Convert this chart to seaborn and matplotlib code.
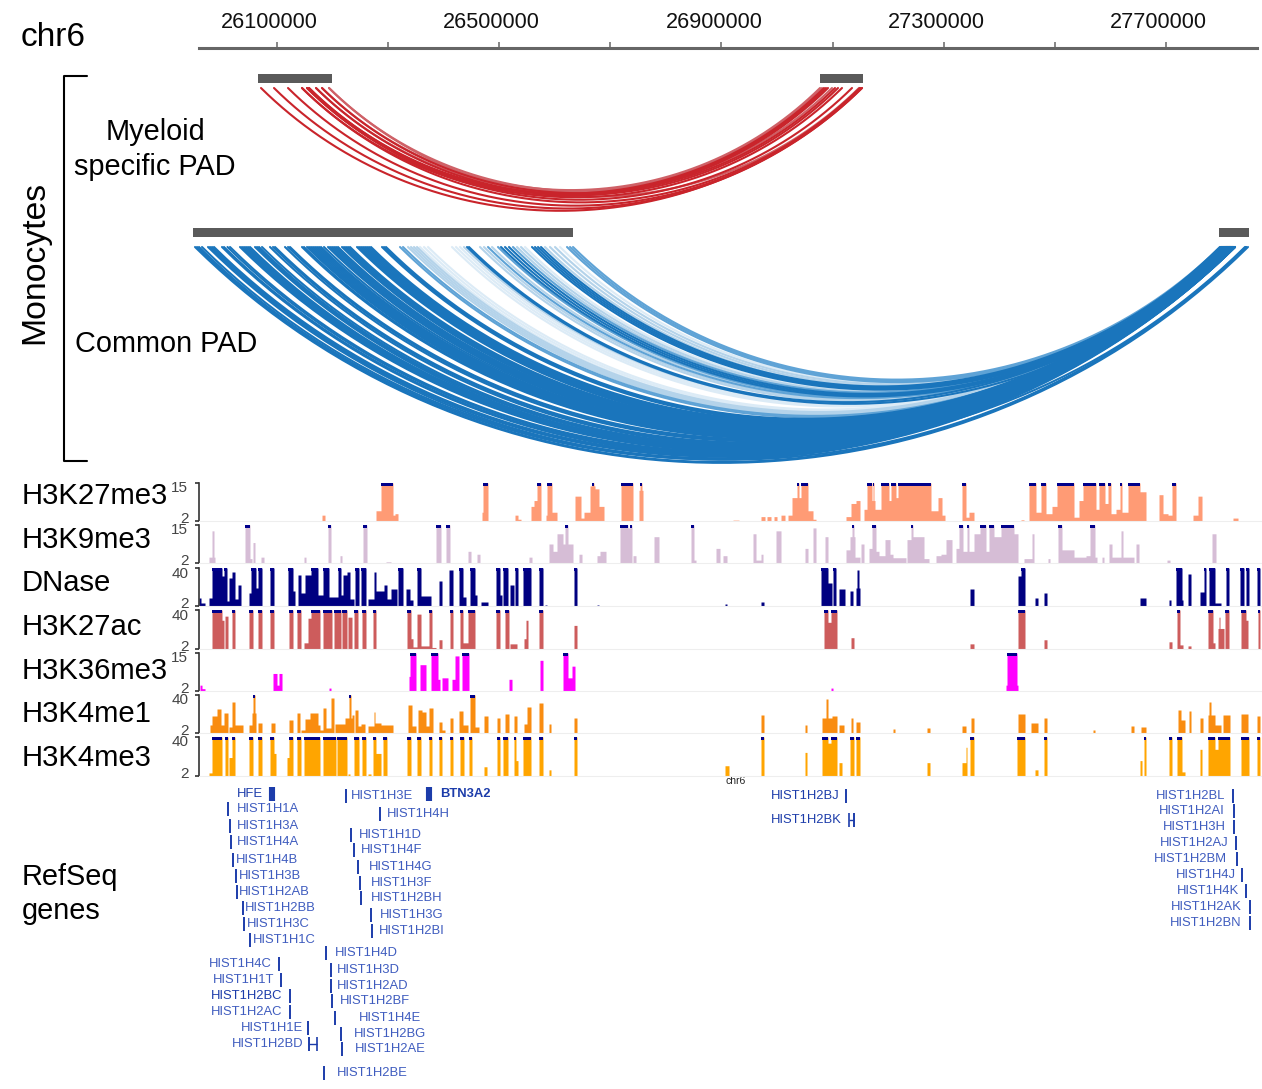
import numpy as np
import pandas as pd
import matplotlib
matplotlib.use("Agg")
import matplotlib.pyplot as plt
from matplotlib.transforms import ScaledTranslation
import seaborn as sns

# browser window index -> genome position
WIN_ZERO = 277
BP_START = 26100000
BP_PER_WIN = 1800

axis_ticks = [26100000 + 200000 * i for i in range(-0, 9)]
axis_labels = ["26100000", "", "26500000", "", "26900000", "", "27300000", "", "27700000"]

# PAD anchors and arcs, in browser windows
myeloid_bars = [(258, 332), (820, 863)]
common_bars = [(193, 573), (1219, 1249)]

myeloid_left = [261, 274, 288, 302, 307, 309, 316, 322, 329, 302, 307, 309, 316, 322, 329]
myeloid_right = [860, 862, 862, 860, 852, 842, 838, 835, 832, 828, 826, 824, 822, 820, 859]
myeloid_level = ["d", "d", "d", "d", "d", "d", "d", "d", "m", "d", "d", "d", "m", "m", "m"]

common_left = [195, 197, 199, 202, 208, 210, 212, 214, 222, 224, 227.5, 230,
               240, 242, 244, 246, 248, 250, 255, 257, 259, 262, 270, 273, 275,
               285, 288, 290, 302, 304, 307, 309, 311, 313, 315, 317, 319, 321, 324,
               328, 330, 332, 334, 336, 338, 342, 344, 346, 348, 350,
               357, 359, 361, 363, 365, 367, 369, 371, 382, 384, 386,
               400, 403, 408, 411, 414, 417, 420, 424, 428, 452, 456, 460, 464,
               467, 469, 480, 484, 488, 492, 498, 501, 505, 509, 513, 517, 521, 525,
               532, 535, 538, 541, 545, 550, 555, 560, 567, 570, 573]
common_right = [1248, 1246, 1235, 1232, 1246, 1233, 1230, 1228, 1235, 1232, 1230, 1228,
                1235, 1233, 1231, 1229, 1227, 1225, 1245, 1233, 1231, 1229, 1235, 1232, 1229,
                1233, 1230, 1227, 1235, 1231, 1233, 1230, 1228, 1226, 1224, 1232, 1229, 1226, 1223,
                1233, 1230, 1228, 1226, 1224, 1222, 1231, 1229, 1227, 1225, 1222,
                1234, 1232, 1230, 1228, 1226, 1224, 1222, 1220, 1232, 1228, 1224,
                1231, 1227, 1230, 1227, 1225, 1222, 1229, 1224, 1221, 1230, 1227, 1224, 1222,
                1232, 1226, 1231, 1228, 1225, 1222, 1233, 1230, 1228, 1226, 1223, 1230, 1226, 1222,
                1228, 1226, 1224, 1221, 1230, 1227, 1224, 1221, 1226, 1223, 1220]
common_level = ["d"] * 61 + ["m", "m", "p", "p", "p", "p", "v", "v", "v", "v", "v", "v", "p",
                             "d", "d", "p", "p", "m", "p", "m", "d", "d", "d", "m", "p", "p", "v",
                             "d", "d", "d", "d", "p", "p", "p", "v", "m", "m", "m"]

# tracks: (first window, last window, signal)
h3k27me3 = [(322, 325, 4), (376, 381, 5.5), (381, 393, 15), (393, 395, 4), (395, 398, 4.5), (482, 483, 5), (483, 488, 15),
            (515, 518, 4), (518, 521, 2.6), (531, 534, 7), (534, 537, 9), (537, 541, 15), (546, 547, 4), (547, 552, 15),
            (552, 557, 5), (575, 581, 10.5), (581, 584, 3), (584, 590, 5), (590, 595, 14), (592, 594, 15), (595, 599, 13),
            (599, 604, 7), (621, 633, 15), (639, 643, 12.5), (640, 642, 15), (733, 739, 2.3), (761, 765, 3.5), (767, 771, 3.5),
            (774, 777, 3.5), (781, 785, 4), (788, 792, 4), (792, 797, 10), (797, 799, 15), (799, 801, 10), (801, 808, 15),
            (808, 813, 5.5), (813, 816, 2.6), (846, 851, 3.5), (851, 856, 8), (856, 860, 9), (864, 867, 6), (867, 872, 15),
            (872, 875, 9), (873, 874, 15), (875, 881, 6), (881, 889, 15), (889, 891, 9), (891, 896, 15), (896, 898, 10),
            (898, 931, 15), (931, 938, 5.5), (938, 942, 10), (942, 945, 4), (962, 966, 15), (966, 969, 3.3), (969, 974, 5),
            (1021, 1024, 2.4), (1029, 1036, 15), (1036, 1041, 5), (1041, 1046, 15), (1046, 1052, 4.5), (1052, 1057, 7),
            (1057, 1074, 15), (1074, 1079, 3.3), (1079, 1083, 9), (1083, 1096, 15), (1096, 1099, 6), (1099, 1105, 15),
            (1105, 1108, 8), (1108, 1111, 15), (1111, 1116, 4.5), (1116, 1120, 6), (1120, 1122, 15), (1122, 1128, 5),
            (1128, 1140, 15), (1140, 1146, 12), (1159, 1163, 11), (1163, 1168, 4.5), (1168, 1172, 4), (1172, 1176, 15),
            (1193, 1198, 4), (1198, 1202, 10.5), (1233, 1238, 3)]
h3k9me3 = [(209, 212, 4), (212, 214, 13), (214, 215, 4), (245, 250, 15), (250, 252, 3.5), (253, 255, 9), (261, 264, 4),
           (304, 306, 4), (328, 331, 15), (340, 342, 4.5), (363, 367, 15), (386, 391, 2.4), (436, 441, 15), (446, 450, 15),
           (468, 471, 6), (477, 480, 5), (529, 532, 4), (549, 553, 8.5), (553, 557, 6), (557, 563, 12), (563, 565, 8.5),
           (565, 568, 15), (568, 573, 8.5), (579, 582, 5), (597, 600, 4.5), (600, 606, 6), (620, 628, 15), (628, 632, 14),
           (630, 632, 15), (633, 636, 4.5), (654, 659, 11), (691, 694, 15), (694, 696, 3), (716, 720, 7), (723, 727, 4.5),
           (753, 756, 12), (756, 761, 3), (761, 763, 5), (776, 781, 13), (805, 808, 7), (813, 816, 14), (825, 828, 11),
           (846, 850, 6.5), (850, 852, 11), (852, 854, 15), (854, 855, 11), (855, 860, 4), (861, 864, 8.5), (869, 872, 7),
           (872, 876, 15), (876, 879, 6), (879, 885, 4.5), (885, 890, 10), (890, 893, 5), (893, 906, 3.8), (907, 911, 10),
           (911, 913, 15), (913, 915, 11), (915, 924, 11), (924, 929, 3.5), (936, 941, 4.5), (941, 946, 5), (946, 952, 10),
           (956, 959, 7), (959, 963, 15), (963, 967, 6), (967, 969, 15), (969, 974, 6), (974, 980, 12), (980, 986, 15),
           (986, 989, 6), (989, 994, 15), (994, 1001, 11), (1001, 1014, 15), (1014, 1018, 12), (1024, 1032, 3.5), (1032, 1034, 12),
           (1048, 1050, 3.5), (1058, 1062, 15), (1062, 1074, 6.5), (1074, 1086, 4), (1086, 1090, 4.5), (1090, 1095, 15),
           (1095, 1097, 4), (1102, 1104, 4), (1109, 1112, 8.5), (1112, 1121, 4), (1121, 1123, 13), (1123, 1134, 4),
           (1136, 1139, 8.5), (1167, 1170, 3), (1212, 1216, 12)]
dnase = [(199, 201, 10), (201, 205, 5), (209, 212, 10), (212, 222, 40), (222, 224, 32), (224, 227, 40), (227, 229, 7),
         (229, 232, 30), (232, 235, 36), (235, 238, 9), (238, 241, 23), (249, 251, 15), (251, 256, 40), (256, 258, 20),
         (258, 262, 40), (270, 274, 40), (288, 293, 40), (293, 295, 17), (298, 301, 33), (301, 305, 15), (305, 311, 33),
         (311, 318, 40), (318, 323, 13), (323, 329, 40), (329, 338, 11), (338, 341, 40), (341, 343, 13), (343, 347, 33),
         (347, 350, 36), (350, 354, 9), (355, 359, 40), (361, 366, 40), (368, 374, 9), (374, 376, 36), (376, 384, 17),
         (384, 387, 23), (387, 391, 9), (391, 397, 19), (398, 403, 40), (406, 410, 19), (410, 413, 8), (417, 421, 40),
         (421, 431, 12), (439, 442, 27), (449, 453, 38), (459, 463, 40), (463, 466, 11), (470, 475, 40), (475, 477, 13),
         (481, 488, 6), (496, 500, 40), (500, 502, 13), (503, 508, 40), (510, 514, 23), (515, 518, 40), (523, 531, 40),
         (539, 543, 40), (545, 547, 3), (574, 577, 40), (597, 599, 3), (725, 727, 4), (761, 764, 6), (821, 828, 40),
         (828, 832, 25), (833, 836, 40), (839, 845, 19), (850, 853, 17), (856, 857, 20), (857, 859, 38), (859, 860, 20),
         (970, 974, 19), (1018, 1021, 32), (1021, 1025, 40), (1035, 1038, 10), (1044, 1047, 15), (1140, 1146, 10),
         (1169, 1171, 8), (1176, 1182, 40), (1182, 1183, 8), (1188, 1191, 34), (1200, 1204, 16), (1204, 1206, 40),
         (1209, 1215, 40), (1215, 1221, 5), (1226, 1229, 40), (1240, 1244, 40), (1246, 1249, 40), (1257, 1260, 40)]
h3k27ac = [(212, 222, 40), (222, 224, 30), (225, 228, 34), (232, 235, 40), (249, 253, 40), (258, 262, 40), (270, 274, 40),
           (289, 293, 40), (297, 301, 40), (304, 308, 8), (308, 311, 32), (311, 320, 40), (323, 332, 40), (334, 341, 40),
           (342, 347, 40), (348, 352, 33), (354, 358, 40), (362, 366, 40), (373, 376, 40), (407, 411, 40), (411, 413, 12),
           (413, 417, 4), (417, 421, 36), (421, 429, 5), (429, 432, 40), (432, 436, 3.5), (439, 442, 11), (450, 453, 40),
           (460, 463, 40), (463, 468, 8), (468, 475, 40), (496, 500, 40), (505, 509, 40), (510, 517, 7), (524, 526, 12),
           (526, 528, 30), (539, 543, 40), (574, 577, 25), (824, 828, 40), (828, 831, 28), (831, 837, 40), (851, 854, 13),
           (970, 974, 7), (1018, 1025, 40), (1044, 1047, 11), (1169, 1172, 9), (1177, 1180, 40), (1180, 1183, 6),
           (1188, 1191, 5), (1208, 1213, 40), (1213, 1215, 8), (1218, 1224, 22), (1219, 1220, 33), (1225, 1229, 40),
           (1241, 1246, 40), (1246, 1248, 30), (1258, 1260, 40)]
h3k36me3 = [(200, 202, 4), (202, 205, 2.8), (273, 277, 8), (277, 279, 4), (279, 282, 8), (329, 331, 3), (409, 410, 7),
            (410, 416, 15), (420, 426, 11), (431, 438, 15), (438, 440, 6), (442, 448, 6.5), (452, 455, 6), (455, 459, 14),
            (462, 469, 15), (509, 512, 6), (540, 543, 12.5), (563, 568, 15), (568, 572, 6.5), (572, 575, 10.5),
            (831, 833, 3), (1006, 1007, 4), (1007, 1017, 15), (1017, 1018, 4)]
h3k4me1 = [(210, 212, 10), (212, 217, 19), (217, 221, 26), (221, 224, 10), (224, 228, 22), (229, 232, 8), (232, 235, 33),
           (235, 243, 10), (249, 252, 10), (252, 253, 22), (253, 255, 40), (255, 256, 22), (258, 262, 12), (271, 275, 12),
           (289, 293, 15), (297, 300, 22), (301, 305, 5), (305, 310, 16), (310, 318, 22), (318, 320, 10), (320, 323, 5),
           (323, 326, 27), (326, 331, 7), (331, 334, 37), (335, 345, 11), (345, 349, 17), (349, 351, 40), (351, 352, 17),
           (352, 354, 20), (355, 358, 25), (358, 361, 9), (361, 365, 11), (368, 374, 9), (374, 375, 23), (375, 381, 12),
           (381, 393, 10), (408, 412, 30), (412, 416, 9), (418, 422, 25), (422, 426, 23), (426, 429, 9), (429, 433, 27),
           (439, 442, 13), (442, 445, 5), (450, 453, 17), (459, 463, 24), (463, 468, 10), (470, 475, 40), (475, 479, 8),
           (484, 488, 19), (497, 500, 17), (505, 509, 21), (514, 517, 19), (524, 527, 11), (527, 531, 28), (539, 543, 32),
           (549, 551, 11), (574, 577, 17), (761, 764, 20), (805, 807, 10), (822, 826, 17), (826, 828, 36), (828, 832, 17),
           (832, 837, 19), (839, 844, 10), (851, 853, 17), (856, 860, 13), (893, 895, 6), (927, 930, 7), (962, 966, 9),
           (971, 974, 17), (1018, 1025, 21), (1031, 1038, 12), (1044, 1047, 17), (1093, 1095, 5), (1131, 1134, 9),
           (1141, 1146, 8), (1178, 1181, 25), (1181, 1185, 15), (1189, 1191, 24), (1200, 1203, 17), (1208, 1209, 20),
           (1209, 1211, 33), (1211, 1215, 20), (1215, 1221, 10), (1223, 1230, 20), (1241, 1248, 21), (1257, 1260, 19)]
h3k4me3 = [(209, 212, 5), (212, 222, 40), (225, 228, 40), (229, 232, 20), (232, 235, 40), (249, 253, 40), (258, 262, 40),
           (270, 274, 40), (274, 276, 24), (287, 289, 20), (289, 293, 40), (297, 301, 40), (304, 320, 40), (323, 336, 40),
           (337, 342, 40), (342, 347, 40), (348, 350, 4), (354, 359, 40), (362, 366, 40), (368, 371, 4), (373, 376, 40),
           (376, 381, 24), (383, 387, 40), (407, 411, 40), (417, 421, 40), (429, 432, 40), (439, 442, 40), (450, 453, 40),
           (460, 464, 40), (469, 472, 40), (484, 487, 11), (497, 500, 40), (503, 508, 40), (514, 516, 40), (516, 518, 17),
           (523, 531, 40), (539, 543, 40), (549, 551, 8), (574, 577, 40), (725, 729, 12), (761, 764, 40), (805, 807, 25),
           (822, 828, 40), (828, 831, 34), (831, 837, 40), (839, 842, 15), (850, 854, 40), (856, 860, 40), (927, 930, 15),
           (962, 966, 15), (966, 967, 30), (970, 974, 40), (1017, 1025, 40), (1035, 1038, 8), (1044, 1047, 40),
           (1140, 1142, 17), (1144, 1146, 40), (1169, 1172, 40), (1177, 1182, 40), (1182, 1185, 6), (1200, 1202, 28),
           (1208, 1215, 40), (1215, 1218, 28), (1218, 1225, 40), (1225, 1230, 40), (1241, 1249, 40), (1257, 1260, 40)]

track_names = ["H3K27me3", "H3K9me3", "DNase", "H3K27ac", "H3K36me3", "H3K4me1", "H3K4me3"]
track_data = [h3k27me3, h3k9me3, dnase, h3k27ac, h3k36me3, h3k4me1, h3k4me3]
track_tops = [15, 15, 40, 40, 15, 40, 40]
track_colors = ["#ff9b75", "#d6bdd6", "#000080", "#cd5c5c", "#ff00ff", "#f98c10", "#ffa500"]
track_rows = [(483, 521), (525, 563), (568, 606), (610, 649), (653, 691), (695, 733), (737, 776)]

# genes: name, label window, row, tick window, kind
genes = [("HIST1H1A", 237, 808, 228), ("HIST1H3A", 237, 825, 230), ("HIST1H4A", 237, 841, 231),
         ("HIST1H4B", 236, 859, 233), ("HIST1H3B", 239, 875, 236), ("HIST1H2AB", 239, 891, 237),
         ("HIST1H2BB", 245, 907, 243), ("HIST1H3C", 247, 923, 244), ("HIST1H1C", 253, 939, 250),
         ("HIST1H4C", 209, 963, 279), ("HIST1H1T", 213, 979, 281), ("HIST1H2AC", 211, 1011, 290),
         ("HIST1H1E", 241, 1027, 308), ("HIST1H2BD", 232, 1043, 309), ("HIST1H3E", 351, 795, 346),
         ("HIST1H4H", 387, 813, 380), ("HIST1H1D", 359, 834, 351), ("HIST1H4F", 361, 849, 354),
         ("HIST1H4G", 369, 866, 358), ("HIST1H3F", 371, 882, 360), ("HIST1H2BH", 371, 897, 361),
         ("HIST1H3G", 380, 914, 371), ("HIST1H2BI", 379, 930, 372), ("HIST1H4D", 335, 952, 326),
         ("HIST1H3D", 337, 969, 331), ("HIST1H2AD", 337, 985, 331), ("HIST1H2BF", 340, 1000, 332),
         ("HIST1H4E", 359, 1017, 335), ("HIST1H2BG", 354, 1033, 341), ("HIST1H2AE", 355, 1048, 342),
         ("HIST1H2BE", 337, 1072, 324), ("HIST1H2BL", 1156, 795, 1233), ("HIST1H2AI", 1159, 810, 1234),
         ("HIST1H3H", 1163, 826, 1234), ("HIST1H2AJ", 1160, 842, 1236), ("HIST1H2BM", 1154, 858, 1237),
         ("HIST1H4J", 1176, 874, 1242), ("HIST1H4K", 1177, 890, 1246), ("HIST1H2AK", 1171, 906, 1250),
         ("HIST1H2BN", 1170, 922, 1250)]
dark_genes = [("HFE", 237, 793, 271.5), ("BTN3A2", 440, 793, 429), ("HIST1H2BC", 211, 995, 290),
              ("HIST1H2BJ", 771, 795, 846), ("HIST1H2BK", 771, 819, 854)]
wide_genes = ["HFE", "BTN3A2"]
split_genes = [("HIST1H2BD", 317, 1043), ("HIST1H2BK", 849, 819)]


def win_to_bp(w):
    return BP_START + (np.asarray(w, dtype=float) - WIN_ZERO) * BP_PER_WIN


def arc_frame(lefts, rights, levels, top_row):
    frames = []
    for i, (a, b, lev) in enumerate(zip(lefts, rights, levels)):
        chord = b - a
        sag = 0.205 * chord
        r = (chord ** 2 / 4 + sag ** 2) / (2 * sag)
        half = np.arcsin(chord / 2 / r)
        th = np.linspace(-half, half, 70)
        xs = (a + b) / 2 + r * np.sin(th)
        ys = top_row + r * np.cos(th) - (r - sag)
        frames.append(pd.DataFrame({"x": win_to_bp(xs), "y": ys, "arc": i, "level": lev}))
    return pd.concat(frames)


sns.set_theme(style="white")
plt.rcParams["font.family"] = ["Liberation Sans", "DejaVu Sans"]
plt.rcParams["text.color"] = "black"

W, H = 1262, 1089
fig = plt.figure(figsize=(W / 100, H / 100), dpi=100)
canvas = fig.add_axes([0, 0, 1, 1])
canvas.set_xlim(win_to_bp(0), win_to_bp(W))
canvas.set_ylim(H, 0)
canvas.axis("off")

# coordinate axis
top_ax = fig.add_axes([199 / W, 1 - 48 / H, 1058 / W, 16 / H], facecolor="none")
top_ax.set_xlim(win_to_bp(199), win_to_bp(1257))
top_ax.set_yticks([])
top_ax.set_xticks(axis_ticks)
top_ax.set_xticklabels(axis_labels)
sns.despine(ax=top_ax, left=True, top=True, right=True)
top_ax.spines["bottom"].set_color("#666666")
top_ax.spines["bottom"].set_linewidth(2.2)
top_ax.tick_params(axis="x", direction="in", length=4, width=1.1, color="#666666", bottom=True,
                   labelbottom=False, labeltop=True, pad=-1, labelsize=15.6, labelcolor="#111111")
shift = ScaledTranslation(-7.5 / 100, 0, fig.dpi_scale_trans)
for lab in top_ax.get_xticklabels():
    lab.set_transform(lab.get_transform() + shift)

# PAD arcs
arc_colors = {"v": "#dcebf6", "p": "#b4d3ea", "m": "#5fa3d6", "d": "#1a75bc"}
red_colors = {"m": "#cf6167", "d": "#c9242b"}
sns.lineplot(data=arc_frame(myeloid_left, myeloid_right, myeloid_level, 88), x="x", y="y", units="arc",
             hue="level", hue_order=["m", "d"], palette=red_colors, estimator=None, sort=False,
             linewidth=1.5, legend=False, ax=canvas)
sns.lineplot(data=arc_frame(common_left, common_right, common_level, 247), x="x", y="y", units="arc",
             hue="level", hue_order=["v", "p", "m", "d"], palette=arc_colors, estimator=None, sort=False,
             linewidth=1.5, legend=False, ax=canvas)
canvas.set_xlim(win_to_bp(0), win_to_bp(W))
canvas.set_ylim(H, 0)
for a, b in myeloid_bars:
    canvas.fill_between(win_to_bp([a, b]), 74, 83, color="#5a5a5a", lw=0)
for a, b in common_bars:
    canvas.fill_between(win_to_bp([a, b]), 228, 237, color="#5a5a5a", lw=0)

# bracket
canvas.plot(win_to_bp([87, 64, 64, 87]), [76, 76, 461, 461], color="black", lw=1.5)
canvas.text(win_to_bp(35), 262, "Monocytes", rotation=90, ha="center", va="center", fontsize=24.3)
canvas.text(win_to_bp(155), 132, "Myeloid", ha="center", va="center", fontsize=20.8)
canvas.text(win_to_bp(155), 167, "specific PAD", ha="center", va="center", fontsize=20.8)
canvas.text(win_to_bp(75), 344, "Common PAD", ha="left", va="center", fontsize=20.8)
canvas.text(win_to_bp(21), 37, "chr6", ha="left", va="center", fontsize=24)
canvas.text(win_to_bp(22), 877, "RefSeq", ha="left", va="center", fontsize=20.8)
canvas.text(win_to_bp(22), 911, "genes", ha="left", va="center", fontsize=20.8)
canvas.text(win_to_bp(725), 781, "chr6", ha="left", va="center", fontsize=7.5, color="#222222")

# signal tracks
edges = win_to_bp(np.arange(199, W + 1))
centers = (edges[:-1] + edges[1:]) / 2
label_rows = [496, 540, 583, 627, 671, 714, 758]
low_shift = ScaledTranslation(0, 3.5 / 100, fig.dpi_scale_trans)
high_shift = ScaledTranslation(0, -4 / 100, fig.dpi_scale_trans)
for name, peaks, ymax, col, (r0, r1), lab_row in zip(track_names, track_data, track_tops, track_colors,
                                                     track_rows, label_rows):
    ax = fig.add_axes([199 / W, 1 - r1 / H, (W - 199) / W, (r1 - r0) / H], facecolor="none")
    sig = np.zeros(len(centers))
    for a, b, v in peaks:
        sig[a - 199:b - 199] = np.maximum(sig[a - 199:b - 199], v - 2)
    df = pd.DataFrame({"pos": centers, "signal": sig})
    sns.histplot(data=df, x="pos", weights="signal", bins=edges.tolist(), element="step", fill=True,
                 color=col, alpha=1, linewidth=0, ax=ax)
    span = ymax - 2
    ax.set_xlim(edges[0], edges[-1])
    ax.set_ylim(0, span)
    # saturated windows get the navy cap
    hit = sig >= span
    runs = np.flatnonzero(np.diff(np.r_[0, hit.astype(int), 0]))
    caps = [(edges[s], edges[e] - edges[s]) for s, e in zip(runs[::2], runs[1::2])]
    ax.broken_barh(caps, (span * 0.925, span * 0.075), color="#00008b", lw=0)
    ax.set_xticks([])
    ax.set_xlabel("")
    ax.set_ylabel("")
    ax.set_yticks([0, span])
    ax.set_yticklabels(["2", str(ymax)], fontsize=11, color="#444444")
    ax.tick_params(axis="y", left=True, length=3.2, width=1.2, color="#333333", pad=4.5)
    # tick_params resets the label transforms, so nudge them after it
    low, high = ax.get_yticklabels()
    low.set_transform(low.get_transform() + low_shift)
    high.set_transform(high.get_transform() + high_shift)
    for s in ["top", "right"]:
        ax.spines[s].set_visible(False)
    ax.spines["left"].set_color("#333333")
    ax.spines["left"].set_linewidth(1.2)
    ax.spines["bottom"].set_color("#eeeeee")
    ax.spines["bottom"].set_linewidth(0.8)
    canvas.text(win_to_bp(22), lab_row, name, ha="left", va="center", fontsize=21.1)

# RefSeq genes
for name, x_text, row, x_tick in genes + dark_genes:
    dark = (name, x_text, row, x_tick) in dark_genes
    canvas.text(win_to_bp(x_text), row + 1, name, ha="left", va="center", fontsize=9.4,
                color="#1c3caa" if dark else "#3f5cbf", fontweight="bold" if name == "BTN3A2" else "normal")
    lw = 4.4 if name in wide_genes else 1.4
    canvas.vlines(win_to_bp(x_tick), row - 6, row + 8, color="#1c3caa", lw=lw)
for name, x_tick, row in split_genes:
    base = [g[3] for g in genes + dark_genes if g[0] == name][0]
    canvas.vlines(win_to_bp(x_tick), row - 6, row + 8, color="#1c3caa", lw=1.2)
    canvas.hlines(row + 1, win_to_bp(min(base, x_tick)), win_to_bp(max(base, x_tick)), color="#1c3caa", lw=1)

fig.savefig("out.png", dpi=100)
